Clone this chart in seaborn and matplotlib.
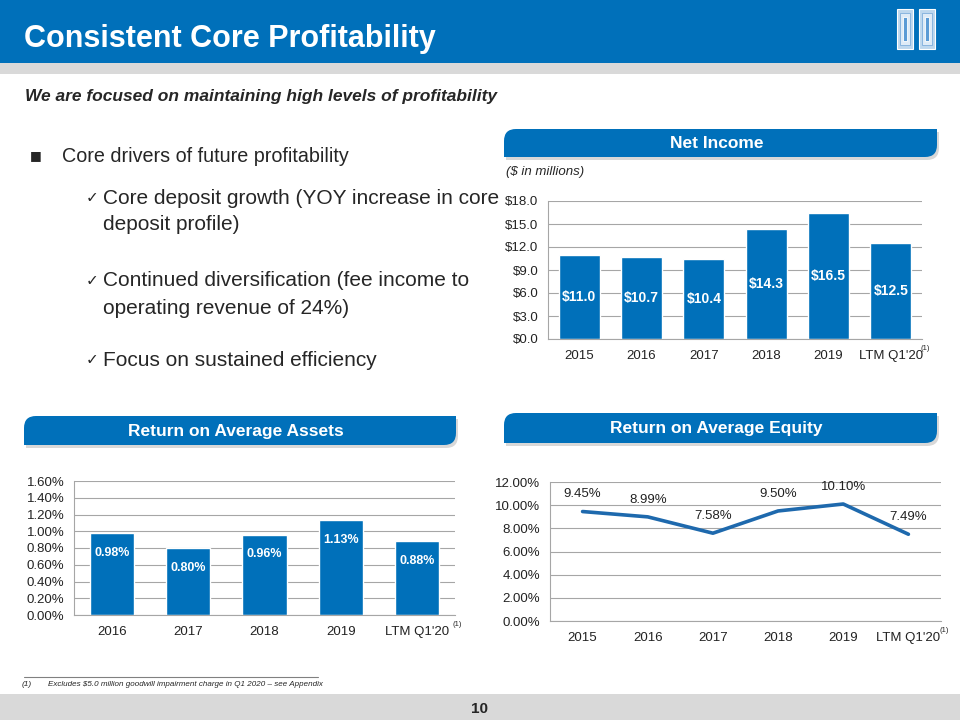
import numpy as np
import pandas as pd
import matplotlib
matplotlib.use("Agg")
import matplotlib.pyplot as plt
from matplotlib.path import Path
from matplotlib.patches import PathPatch, Rectangle
from matplotlib.ticker import MultipleLocator, FuncFormatter, FixedLocator, NullFormatter
import seaborn as sns

# ---- data ----
ni_years = ['2015', '2016', '2017', '2018', '2019', "LTM Q1'20"]
ni_values = [11.0, 10.7, 10.4, 14.3, 16.5, 12.5]

roa_years = ['2016', '2017', '2018', '2019', "LTM Q1'20"]
roa_values = [0.98, 0.80, 0.96, 1.13, 0.88]

roe_years = ['2015', '2016', '2017', '2018', '2019', "LTM Q1'20"]
roe_values = [9.45, 8.99, 7.58, 9.50, 10.10, 7.49]

bullets = [
    "Core deposit growth (YOY increase in core\ndeposit profile)",
    "Continued diversification (fee income to\noperating revenue of 24%)",
    "Focus on sustained efficiency",
]

BLUE = '#0070BA'
LINE_BLUE = '#1E69AD'
GRID = '#A6A6A6'
GREY_BAND = '#D9D9D9'

sns.set_style("white")
FONT = ['Liberation Sans', 'DejaVu Sans']
plt.rcParams['font.family'] = FONT

W, H = 960, 720
fig = plt.figure(figsize=(9.6, 7.2), dpi=100)

# overlay in pixel coordinates for the slide furniture
ov = fig.add_axes([0, 0, 1, 1])
ov.set_xlim(0, W)
ov.set_ylim(H, 0)
ov.axis('off')


def rect_px(x0, y0, x1, y1):
    return [x0 / W, 1 - y1 / H, (x1 - x0) / W, (y1 - y0) / H]


def tab(x0, y0, x1, y1, label, r=12):
    def shape(dx, dy):
        a0, b0, a1, b1 = x0 + dx, y0 + dy, x1 + dx, y1 + dy
        verts = [(a0, b1), (a0, b0 + r), (a0, b0), (a0 + r, b0), (a1, b0),
                 (a1, b1 - r), (a1, b1), (a1 - r, b1), (a0, b1)]
        codes = [Path.MOVETO, Path.LINETO, Path.CURVE3, Path.CURVE3, Path.LINETO,
                 Path.LINETO, Path.CURVE3, Path.CURVE3, Path.CLOSEPOLY]
        return Path(verts, codes)
    ov.add_patch(PathPatch(shape(2, 3), facecolor='#BFBFBF', edgecolor='none', alpha=0.6))
    ov.add_patch(PathPatch(shape(0, 0), facecolor=BLUE, edgecolor='none'))
    ov.text((x0 + x1) / 2 - 4, (y0 + y1) / 2 + 1, label, color='white', fontsize=12.5,
            fontweight='bold', ha='center', va='center')


# header
ov.add_patch(Rectangle((0, 0), W, 63, facecolor=BLUE, edgecolor='none'))
ov.add_patch(Rectangle((0, 63), W, 11, facecolor=GREY_BAND, edgecolor='none'))
ov.text(24, 39, "Consistent Core Profitability", color='white', fontsize=22,
        fontweight='bold', ha='left', va='center')

# logo: two pillars
for px in (897, 919):
    ov.add_patch(Rectangle((px, 9), 16, 40, facecolor='#BDD7EE', edgecolor='white', lw=0.8))
    ov.add_patch(Rectangle((px + 3, 13), 10, 32, facecolor='#DEEBF7', edgecolor='#7FAEDC', lw=0.6))
    ov.add_patch(Rectangle((px + 6, 17), 4, 24, facecolor='#5B9BD5', edgecolor='white', lw=0.6))

ov.text(25, 96, "We are focused on maintaining high levels of profitability", fontsize=12.5,
        fontweight='bold', fontstyle='italic', ha='left', va='center')

# bullets
ov.text(30, 156, "\u25A0", fontsize=9, ha='left', va='center', family=['DejaVu Sans'])
ov.text(62, 156, "Core drivers of future profitability", fontsize=14.2, ha='left', va='center')
bullet_y = [198, 281, 360]
for by, txt in zip(bullet_y, bullets):
    ov.text(86, by, "\u2713", fontsize=11, ha='left', va='center', family=['DejaVu Sans'])
    for i, ln in enumerate(txt.split('\n')):
        ov.text(103, by + i * 27, ln, fontsize=15, ha='left', va='center')

# tabs
tab(504, 129, 937, 157, "Net Income")
tab(24, 416, 456, 445, "Return on Average Assets")
tab(504, 413, 937, 443, "Return on Average Equity")
ov.text(506, 172, "($ in millions)", fontsize=9.5, fontstyle='italic', ha='left', va='center')

# footnote + footer
ov.plot([24, 318], [677, 677], color='#808080', lw=0.8)
ov.text(22, 685, "(1)", fontsize=6, fontstyle='italic', ha='left', va='center')
ov.text(48, 685, "Excludes $5.0 million goodwill impairment charge in Q1 2020 \u2013 see Appendix",
        fontsize=5.8, fontstyle='italic', ha='left', va='center')
ov.add_patch(Rectangle((0, 694), W, 26, facecolor=GREY_BAND, edgecolor='none'))
ov.text(480, 709, "10", fontsize=11, fontweight='bold', ha='center', va='center')


def style_axes(ax, n, ymax, step, fmt):
    ax.set_facecolor('none')
    ax.set_xlim(-0.5, n - 0.5)
    ax.set_ylim(0, ymax)
    ax.yaxis.set_major_locator(MultipleLocator(step))
    ax.yaxis.set_major_formatter(FuncFormatter(fmt))
    ax.grid(axis='y', color=GRID, lw=0.8)
    ax.set_axisbelow(True)
    for s in ('top', 'right'):
        ax.spines[s].set_visible(False)
    for s in ('left', 'bottom'):
        ax.spines[s].set_color(GRID)
        ax.spines[s].set_linewidth(0.8)
    ax.xaxis.set_minor_locator(FixedLocator(np.arange(-0.5, n, 1.0)))
    ax.xaxis.set_minor_formatter(NullFormatter())
    ax.tick_params(axis='x', which='major', length=0, labelsize=9.5, pad=8, colors='#222222')
    ax.tick_params(axis='x', which='minor', length=4, color=GRID, width=0.8)
    ax.tick_params(axis='y', length=4, color=GRID, width=0.8, labelsize=9.5, pad=3,
                   labelcolor='#222222')
    ax.set_xlabel('')
    ax.set_ylabel('')
    # footnote marker on last category
    ax.text(n - 1 + 0.47, -0.045, "(1)", transform=ax.get_xaxis_transform(),
            fontsize=5.5, ha='left', va='top')


# Net Income
ax1 = fig.add_axes(rect_px(548, 201, 922, 339))
sns.barplot(x=ni_years, y=ni_values, ax=ax1, color=BLUE, saturation=1, width=0.66)
style_axes(ax1, len(ni_years), 18, 3, lambda v, p: f"${v:.1f}")
for i, v in enumerate(ni_values):
    ax1.text(i, v / 2, f"${v:.1f}", color='white', fontsize=10, fontweight='bold',
             ha='center', va='center')

# ROA
ax2 = fig.add_axes(rect_px(74, 481, 455, 615))
sns.barplot(x=roa_years, y=roa_values, ax=ax2, color=BLUE, saturation=1, width=0.58)
style_axes(ax2, len(roa_years), 1.6, 0.2, lambda v, p: f"{v:.2f}%")
for i, v in enumerate(roa_values):
    ax2.annotate(f"{v:.2f}%", (i, v), xytext=(0, -10), textcoords='offset points',
                 color='white', fontsize=9, fontweight='bold', ha='center', va='top')

# ROE
ax3 = fig.add_axes(rect_px(550, 482, 941, 621))
roe_df = pd.DataFrame({'pos': np.arange(len(roe_years)), 'roe': roe_values})
sns.lineplot(data=roe_df, x='pos', y='roe', ax=ax3, color=LINE_BLUE, lw=2.6)
style_axes(ax3, len(roe_years), 12, 2, lambda v, p: f"{v:.2f}%")
ax3.set_xticks(np.arange(len(roe_years)))
ax3.set_xticklabels(roe_years)
ax3.set_xlabel('')
ax3.set_ylabel('')
for i, v in enumerate(roe_values):
    ax3.annotate(f"{v:.2f}%", (i, v), xytext=(0, 8), textcoords='offset points',
                 fontsize=9.5, ha='center', va='bottom', color='#222222')

fig.savefig("out.png", dpi=100)
